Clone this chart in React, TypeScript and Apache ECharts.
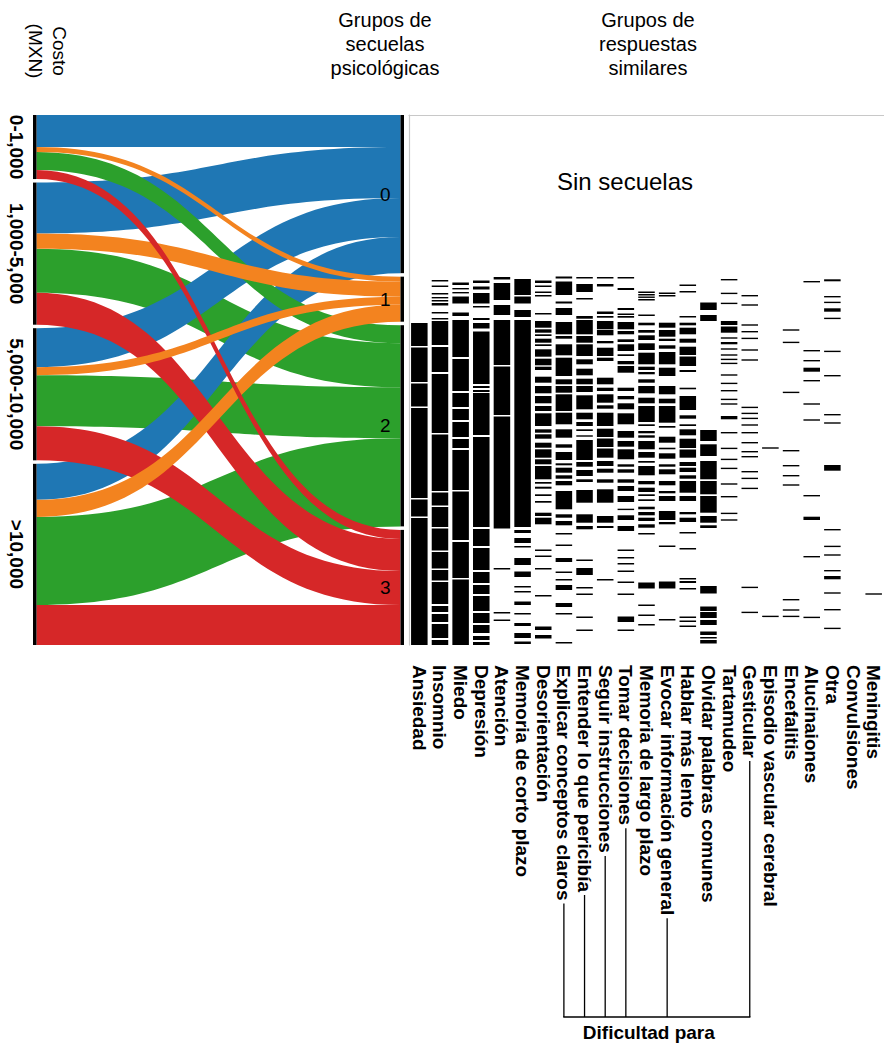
import React, { useEffect, useRef } from 'react';
import * as echarts from 'echarts';

const FONT = '"Liberation Sans", Arial, Helvetica, sans-serif';

// Sankey: cost categories -> psychological sequelae groups
const COST_LABELS = ['0-1,000', '1,000-5,000', '5,000-10,000', '>10,000'];
const GROUP_LABELS = ['0', '1', '2', '3'];
const GROUP_COLORS = ['#1f77b4', '#f3831f', '#2ca02c', '#d62728'];
const TO_GROUP_0 = [32, 51, 39, 36];
const TO_GROUP_1 = [5, 15, 8, 17];
const TO_GROUP_2 = [18, 44, 51, 88];
const TO_GROUP_3 = [9, 32, 34, 40];

// Barcode: symptoms (columns) and respondent rows that report them
const SYMPTOMS = [
  'Ansiedad', 'Insomnio', 'Miedo', 'Depresión', 'Atención', 'Memoria de corto plazo',
  'Desorientación', 'Explicar conceptos claros', 'Entender lo que pericibía',
  'Seguir instrucciones', 'Tomar decisiones', 'Memoria de largo plazo',
  'Evocar información general', 'Hablar más lento', 'Olvidar palabras comunes',
  'Tartamudeo', 'Gesticular', 'Episodio vascular cerebral', 'Encefalitis',
  'Alucinaiones', 'Otra', 'Convulsiones', 'Meningitis',
];
const DIFICULTAD_PARA = [
  'Explicar conceptos claros', 'Entender lo que pericibía', 'Seguir instrucciones',
  'Tomar decisiones', 'Evocar información general', 'Gesticular',
];
const ROW_MAX = 530;

const ANSIEDAD = [[208, 231], [232.5, 267], [268.5, 291.5], [293, 383], [384.5, 401.5], [403, 530]];
const INSOMNIO = [[165, 166.5], [170.5, 172], [178, 179.5], [182, 183], [185, 186.5], [188, 190.5], [197, 198.5], [203, 204.5], [206, 230], [232, 257], [259, 318], [319.5, 376], [377.5, 390.5], [392, 412], [413.5, 435.5], [437, 453.5], [455, 465.5], [467, 489], [491, 497], [499, 507], [509, 523], [525, 530]];
const MIEDO = [[167.5, 170], [173, 174], [177, 178], [181.5, 188.5], [197.5, 201], [205, 242], [244, 276], [278, 292], [294, 305], [307, 322], [324, 333], [335, 375], [376.5, 425], [427, 463], [464.5, 530]];
const DEPRESION = [[165.5, 168], [171.5, 174.5], [178, 188.5], [191, 192.5], [203, 205], [208, 213.5], [216.5, 269], [271, 273], [275, 277], [278, 320], [322, 412], [414, 431], [433, 455], [457, 468], [470, 479], [481, 496], [498, 508], [510, 518], [521, 525], [527, 530]];
const ATENCION = [[162, 164.5], [168, 185], [190, 200], [205, 250], [251.5, 300], [301.5, 413.5], [453, 454.5], [497, 498.5], [504.5, 506]];
const MEMORIA_CORTO = [[164, 180], [181.5, 188.5], [195, 202], [205, 412], [415, 418], [423, 428], [431, 432.5], [443, 450], [456.5, 462], [471, 472.5], [476, 477.5], [486.5, 490], [498, 499.5], [508, 511], [518, 523], [526.5, 529]];
const DESORIENTACION = [[165.5, 168], [170.5, 172], [176.5, 178], [180, 181.5], [198, 199.5], [206, 212.7], [214.3, 217.7], [219.3, 221], [223.7, 227.7], [229.3, 231], [234.3, 241.7], [243.7, 250.3], [251.7, 255], [261.7, 267.7], [271, 278.3], [281, 288.3], [291, 296], [298.3, 311], [314.3, 317.7], [319.3, 323.7], [327.7, 332.7], [334.3, 342.7], [344.3, 349.3], [351, 364.3], [367, 368.7], [371.7, 373.7], [379.3, 381], [386, 387.7], [397.7, 401], [402.7, 409.3], [434.5, 436], [440.5, 442], [453, 454.5], [480, 481.5], [511.5, 515], [520, 523.5]];
const EXPLICAR = [[161.5, 163.5], [166.5, 180], [186.5, 188.5], [193, 200], [207, 219.3], [221, 223.7], [229.3, 240.3], [242.7, 261], [264.3, 269.3], [271, 277.7], [279.3, 296], [297.7, 309.3], [314.3, 322.7], [329.3, 332.7], [337, 345], [348.3, 350.3], [352.7, 357.7], [360.3, 363.7], [366, 370.3], [376, 394.3], [399.3, 402.7], [406, 410.3], [418, 419.5], [429.5, 431], [443, 447], [456.5, 458], [464, 465.5], [470, 475], [488, 492], [498, 499.5], [527, 528.5]];
const ENTENDER = [[162, 163.5], [169, 177], [183, 184.5], [201, 203.7], [205, 219.3], [221, 227.7], [229.3, 241], [244.3, 249.3], [253.7, 260.3], [263.7, 269.3], [271, 277], [280.3, 294.3], [297.7, 304.3], [307, 311], [314.3, 316], [320.3, 321.7], [325, 345], [347, 351.7], [355, 361], [364.3, 367], [375, 387.7], [399.3, 407.7], [411, 414.3], [444.5, 446], [453, 460], [472, 473.5], [478.5, 480], [501.5, 503], [514.5, 516]];
const SEGUIR = [[162, 163.5], [169, 171.5], [196.5, 199], [201, 202.7], [206, 214.3], [215, 220.3], [226, 228.3], [232.7, 241], [242.7, 246], [262.7, 269.3], [272.7, 276], [279.3, 287.7], [290.3, 293.7], [297.7, 311], [313.7, 322], [323.5, 332], [333.5, 342.7], [346, 351], [353.7, 357.7], [364.3, 367.7], [374.3, 387.7], [401, 407.7], [411, 413], [464, 465.5]];
const TOMAR = [[162, 163.5], [173, 175], [193, 195], [198.5, 200], [201, 202.7], [207, 214.3], [216, 219.3], [224.3, 227], [229.3, 236], [239.3, 241], [246, 249.3], [251, 257.7], [272.7, 276], [281, 284.3], [288.3, 294.3], [298.3, 309.3], [316, 322.7], [326, 331.7], [334.3, 344.3], [349.3, 351.7], [354.3, 357.7], [364.3, 367.7], [371, 376], [381, 387], [393.7, 395], [400.3, 405], [411, 416], [434.5, 436], [442, 443.5], [448, 449.5], [455.5, 457], [466.5, 468], [478.5, 480], [501.5, 507], [514.5, 516]];
const MEMORIA_LARGO = [[176.5, 178], [179, 180.5], [181.5, 182.5], [184, 185.5], [199.5, 201], [207.7, 210.3], [215, 217.7], [220.3, 225], [228.3, 235], [237.7, 249.3], [251.7, 255], [257, 259.3], [264.3, 267.7], [271, 278.3], [282.7, 288.3], [291, 307], [309.3, 311], [316, 318.3], [320.3, 322.7], [326, 334.3], [337, 342.7], [346, 347.7], [351, 360.3], [366, 369.3], [372.7, 377], [379.3, 381], [384.3, 386], [391.7, 394.3], [397, 400.3], [402.7, 406], [409.3, 412.7], [418, 419.5], [467.5, 473.5], [489.5, 491], [499.5, 501], [509, 510.5]];
const EVOCAR = [[177.5, 179], [180, 181.5], [207.7, 212.7], [215, 221.7], [223.7, 226], [230.3, 233.7], [237, 249.3], [252.7, 261], [271, 279.3], [283.7, 288.3], [291, 307.7], [311, 312.7], [321.7, 327.7], [332.7, 334.3], [338.3, 343.7], [349.3, 351.7], [354.3, 359.3], [366, 370.3], [376, 378.3], [381, 386], [396, 405], [407, 409.3], [430.5, 432], [466.5, 473.5], [504, 505.5]];
const HABLAR = [[169.5, 171], [176, 177.5], [201, 202.5], [207.7, 210.3], [212.7, 219.3], [223.7, 227.7], [231.7, 240], [241.5, 251], [255, 257], [272.7, 274.3], [281, 295], [300.3, 303.7], [309.3, 311], [314.3, 320.3], [323.7, 333], [334.5, 342.7], [347, 351], [352.7, 357], [360.3, 363.7], [366, 377.7], [381, 386], [397, 399.3], [402.7, 407], [417, 418.5], [433, 434.5], [463, 464.5], [466, 468], [473, 474.5], [501.5, 503], [505.5, 507], [510.5, 512]];
const OLVIDAR = [[187.5, 195], [200, 206], [315, 326], [329.3, 341], [346, 364.3], [366, 379.3], [381, 397.7], [401, 407.7], [410.3, 413], [471, 478.5], [491.5, 496], [497, 503], [505, 510], [516.5, 520], [522, 523.5], [525, 528.5]];
const TARTAMUDEO = [164, 177.7, 187.7, [206, 210], [211.5, 217.7], 222.3, [227, 229.3], 233.3, 239.3, 243.7, 247.7, 259.3, 267.7, 275, 283.7, 288.3, [301, 304.3], 317, 332.7, 343.7, 352.7, 368.3, 381, 397.7, 404.3];
const GESTICULAR = [180, 189.3, 209.3, 216, 222.7, 234.3, 244.3, 291.7, 297.7, 302.7, 309.3, 317, 327, 336, 341, 356, 362.7, 372.7, 471.7, 496.7];
const EPISODIO = [332.3, 500.7];
const ENCEFALITIS = [214.3, 226.7, 276.7, 335, 350, 360, 369.3, 484, 494.3, 500.7];
const ALUCINACIONES = [166, 235, 245, [252.7, 256.7], 265, 288.3, 304.3, 380, [401.7, 405], 441, 501.7];
const OTRA = [[164.3, 166.3], 181, 186.7, [193.3, 196.7], 202.7, 235.7, 260, 299, 307.3, [350, 355.7], 414, 430.7, 439.3, 455, [461, 464.3], 477.3, 494, 512.7];
const CONVULSIONES: number[] = [];
const MENINGITIS = [478.3];

const COLUMNS: any[] = [
  ANSIEDAD, INSOMNIO, MIEDO, DEPRESION, ATENCION, MEMORIA_CORTO, DESORIENTACION,
  EXPLICAR, ENTENDER, SEGUIR, TOMAR, MEMORIA_LARGO, EVOCAR, HABLAR, OLVIDAR,
  TARTAMUDEO, GESTICULAR, EPISODIO, ENCEFALITIS, ALUCINACIONES, OTRA, CONVULSIONES, MENINGITIS,
];

export default function App() {
  const ref = useRef<HTMLDivElement>(null);

  useEffect(() => {
    if (!ref.current) return;
    const chart = echarts.init(ref.current, null, { renderer: 'svg' });

    const flows = [TO_GROUP_0, TO_GROUP_1, TO_GROUP_2, TO_GROUP_3];
    const links: any[] = [];
    flows.forEach((arr, g) => {
      arr.forEach((v, c) => {
        links.push({
          source: COST_LABELS[c],
          target: GROUP_LABELS[g],
          value: v,
          lineStyle: { color: GROUP_COLORS[g], opacity: 1, curveness: 0.5 },
        });
      });
    });
    // larger flows drawn first, smaller flows on top
    links.sort((a, b) => b.value - a.value);

    const nodes = [
      ...COST_LABELS.map((n) => ({
        name: n,
        label: {
          show: true, position: 'left', distance: 17, rotate: -90, align: 'center',
          verticalAlign: 'middle', fontWeight: 'bold', fontSize: 19, color: '#000', fontFamily: FONT,
        },
      })),
      ...GROUP_LABELS.map((n) => ({
        name: n,
        label: { show: true, position: 'left', distance: 10, fontSize: 19, color: '#000', fontFamily: FONT },
      })),
    ];

    const barData: any[] = [];
    COLUMNS.forEach((col, i) => {
      col.forEach((v: any) => {
        const seg = typeof v === 'number' ? [v, v + 1.4] : v;
        barData.push([i, seg[0], seg[1]]);
      });
    });

    const option: any = {
      animation: false,
      textStyle: { fontFamily: FONT },
      grid: { left: 409, right: 0, top: 115, bottom: 398, containLabel: false },
      xAxis: [
        {
          type: 'category', data: SYMPTOMS, position: 'bottom',
          axisLine: { show: false }, axisTick: { show: false },
          axisLabel: {
            interval: 0, rotate: -90, margin: 20, fontSize: 19, fontWeight: 'bold',
            color: '#000', fontFamily: FONT,
          },
        },
        {
          type: 'category', data: SYMPTOMS, position: 'top',
          axisLine: { show: true, lineStyle: { color: '#c8c8c8', width: 1.2 } },
          axisTick: { show: false }, axisLabel: { show: false },
        },
      ],
      yAxis: {
        type: 'value', min: 0, max: ROW_MAX, inverse: true,
        axisLine: { show: true, lineStyle: { color: '#c8c8c8', width: 1.2 } },
        axisTick: { show: false }, axisLabel: { show: false }, splitLine: { show: false },
      },
      series: [
        {
          type: 'sankey',
          left: 33, right: 480, top: 115, bottom: 398,
          nodeWidth: 3.5, nodeGap: 3.5, layoutIterations: 0, draggable: false,
          emphasis: { disabled: true },
          itemStyle: { color: '#000', borderWidth: 0 },
          lineStyle: { opacity: 1, curveness: 0.5 },
          data: nodes,
          links,
        },
        {
          type: 'custom',
          xAxisIndex: 0, yAxisIndex: 0,
          encode: { x: 0, y: [1, 2] },
          data: barData,
          renderItem: (params: any, api: any) => {
            const c = api.value(0);
            const p0 = api.coord([c, api.value(1)]);
            const p1 = api.coord([c, api.value(2)]);
            const w = api.size([1, 0])[0] * 0.8;
            const top = Math.min(p0[1], p1[1]);
            const h = Math.max(Math.abs(p1[1] - p0[1]), 1.4);
            return {
              type: 'rect',
              shape: { x: p0[0] - w / 2, y: top, width: w, height: h },
              style: { fill: '#000' },
            };
          },
        },
      ],
    };
    chart.setOption(option);

    // Connectors for "Dificultad para"
    const cv = document.createElement('canvas').getContext('2d') as CanvasRenderingContext2D;
    cv.font = `bold 19px ${FONT}`;
    const bottomY = chart.convertToPixel({ yAxisIndex: 0 }, ROW_MAX) as number;
    const labelTop = bottomY + 20;
    const bracketY = 1017;
    const xs: number[] = [];
    const elements: any[] = [];
    DIFICULTAD_PARA.forEach((name) => {
      const idx = SYMPTOMS.indexOf(name);
      const x = chart.convertToPixel({ gridIndex: 0 }, [idx, 0])[0];
      xs.push(x);
      const w = cv.measureText(name).width;
      elements.push({
        type: 'line',
        shape: { x1: x, y1: labelTop + w + 3, x2: x, y2: bracketY },
        style: { stroke: '#000', lineWidth: 1.3 },
      });
    });
    const xMin = Math.min(...xs);
    const xMax = Math.max(...xs);
    elements.push({
      type: 'line',
      shape: { x1: xMin - 0.65, y1: bracketY, x2: xMax + 0.65, y2: bracketY },
      style: { stroke: '#000', lineWidth: 1.3 },
    });
    elements.push({
      type: 'text', x: (xMin + xMax) / 2 - 8, y: 1032,
      style: { text: 'Dificultad para', fontSize: 19, fontWeight: 'bold', fontFamily: FONT, fill: '#000', align: 'center', verticalAlign: 'middle' },
    });
    elements.push({
      type: 'text', x: 47, y: 51, rotation: -Math.PI / 2,
      style: { text: 'Costo\n(MXN)', fontSize: 19, lineHeight: 24, fontFamily: FONT, fill: '#000', align: 'center', verticalAlign: 'middle' },
    });
    elements.push({
      type: 'text', x: 385, y: 8,
      style: { text: 'Grupos de\nsecuelas\npsicológicas', fontSize: 20, lineHeight: 24, fontFamily: FONT, fill: '#000', align: 'center', verticalAlign: 'top' },
    });
    elements.push({
      type: 'text', x: 648, y: 8,
      style: { text: 'Grupos de\nrespuestas\nsimilares', fontSize: 20, lineHeight: 24, fontFamily: FONT, fill: '#000', align: 'center', verticalAlign: 'top' },
    });
    elements.push({
      type: 'text', x: 625, y: 181,
      style: { text: 'Sin secuelas', fontSize: 24, fontFamily: FONT, fill: '#000', align: 'center', verticalAlign: 'middle' },
    });
    chart.setOption({ graphic: { elements } });

    return () => chart.dispose();
  }, []);

  return (
    <div
      ref={ref}
      style={{ position: 'absolute', left: 0, top: 0, width: 884, height: 1043, background: '#fff' }}
    />
  );
}
